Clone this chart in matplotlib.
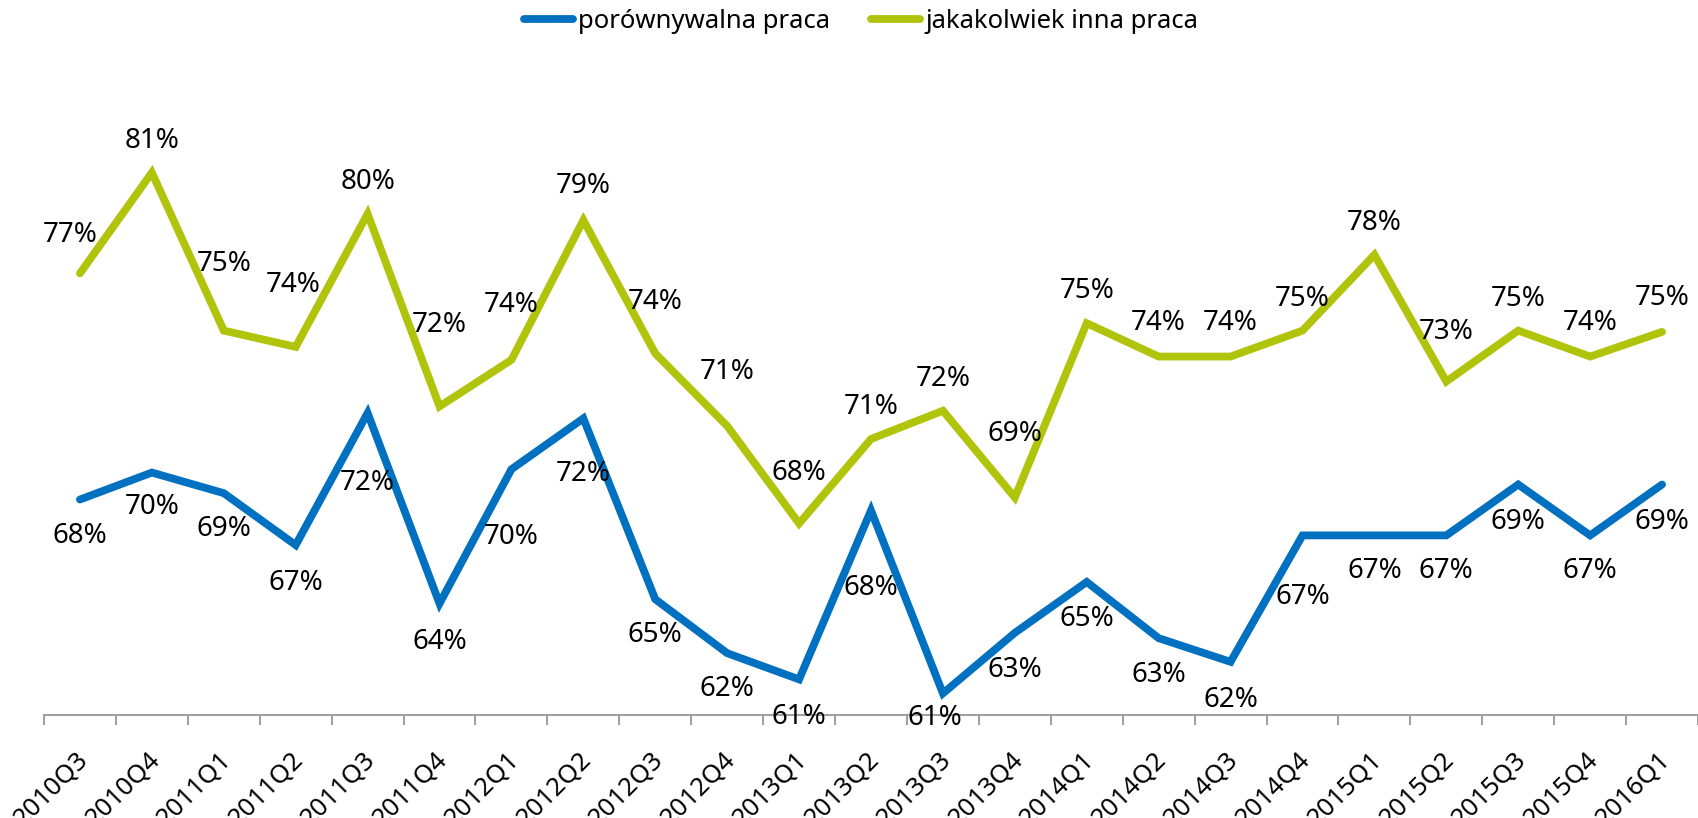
import matplotlib
matplotlib.use("Agg")
import matplotlib.pyplot as plt
from matplotlib.transforms import ScaledTranslation
import numpy as np

quarters = ["2010Q3", "2010Q4", "2011Q1", "2011Q2", "2011Q3", "2011Q4",
            "2012Q1", "2012Q2", "2012Q3", "2012Q4", "2013Q1", "2013Q2",
            "2013Q3", "2013Q4", "2014Q1", "2014Q2", "2014Q3", "2014Q4",
            "2015Q1", "2015Q2", "2015Q3", "2015Q4", "2016Q1"]

# share (in %) - porównywalna praca
comparable = [68.47, 69.53, 68.72, 66.68, 71.87, 64.38, 69.66, 71.66,
              64.55, 62.43, 61.40, 68.04, 60.85, 63.23, 65.23, 63.02,
              62.09, 67.06, 67.06, 67.06, 69.06, 67.06, 69.06]

# share (in %) - jakakolwiek inna praca
any_other = [77.36, 81.32, 75.11, 74.47, 79.70, 72.13, 73.96, 79.45,
             74.21, 71.36, 67.53, 70.85, 71.96, 68.55, 75.40, 74.09,
             74.09, 75.11, 78.09, 73.11, 75.11, 74.09, 75.06]

series_names = ["porównywalna praca", "jakakolwiek inna praca"]

# label offsets in pixels (layout only)
green_dy = [38, 32, 67, 62, 32, 81, 55, 34, 51, 54, 50, 32, 32, 63, 32, 34,
            34, 32, 32, 49, 32, 34, 34]
green_dx = [-10, 0, 0, -3, 0, 0, 0, 0, 0, 0, 0, 0, 0, 0, 0, 0,
            0, 0, 0, 0, 0, 0, 0]
blue_dy = [36, 34, 36, 38, 70, 38, 68, 56, 36, 36, 38, 78, 25, 37, 37, 37,
           38, 62, 36, 36, 37, 36, 37]
blue_dx = [0, 0, 0, 0, 0, 0, 0, 0, 0, 0, 0, 0, -8, 0, 0, 0,
           0, 0, 0, 0, 0, 0, 0]

BLUE = "#0070C0"
GREEN = "#AFC40A"
FONT = "Noto Sans"
FS = 20

plt.rcParams['font.family'] = [FONT, 'DejaVu Sans']

fig = plt.figure(figsize=(16.98, 8.18), dpi=100)
ax = fig.add_axes([44 / 1698, 1 - 715 / 818, 1 - 44 / 1698, (715 - 79) / 818])

x = np.arange(len(quarters))
ax.plot(x, comparable, color=BLUE, lw=5.6, solid_capstyle='round',
        solid_joinstyle='miter', label=series_names[0])
ax.plot(x, any_other, color=GREEN, lw=5.6, solid_capstyle='round',
        solid_joinstyle='miter', label=series_names[1])

for i in range(len(quarters)):
    ax.annotate(f"{any_other[i]:.0f}%", (x[i], any_other[i]),
                xytext=(green_dx[i], green_dy[i]), textcoords='offset pixels',
                ha='center', va='center', fontsize=FS, color='black')
    ax.annotate(f"{comparable[i]:.0f}%", (x[i], comparable[i]),
                xytext=(blue_dx[i], -blue_dy[i]), textcoords='offset pixels',
                ha='center', va='center', fontsize=FS, color='black',
                annotation_clip=False)

ax.set_xlim(-0.5, len(quarters) - 0.5)
ax.set_ylim(60, 85)

for s in ['top', 'right', 'left']:
    ax.spines[s].set_visible(False)
ax.spines['bottom'].set_color('#A0A0A0')
ax.spines['bottom'].set_linewidth(1.5)
ax.yaxis.set_visible(False)

ax.set_xticks(x)
ax.set_xticklabels(quarters, rotation=45, ha='right', va='baseline',
                   rotation_mode='anchor', fontsize=18.5)
ax.set_xticks(np.arange(-0.5, len(quarters)), minor=True)
ax.tick_params(axis='x', which='major', length=0, pad=33)
ax.tick_params(axis='x', which='minor', length=7, width=1.5, color='#A0A0A0')
shift = ScaledTranslation(0.09, 0, fig.dpi_scale_trans)
for lab in ax.get_xticklabels():
    lab.set_transform(lab.get_transform() + shift)

fig.legend(loc='upper center', bbox_to_anchor=(861 / 1698, 0.992), ncol=2,
           frameon=False, fontsize=18.5, handlelength=1.9, handletextpad=0.2,
           columnspacing=1.6, borderaxespad=0.0, borderpad=0.1)

fig.savefig("out.png", dpi=100)
